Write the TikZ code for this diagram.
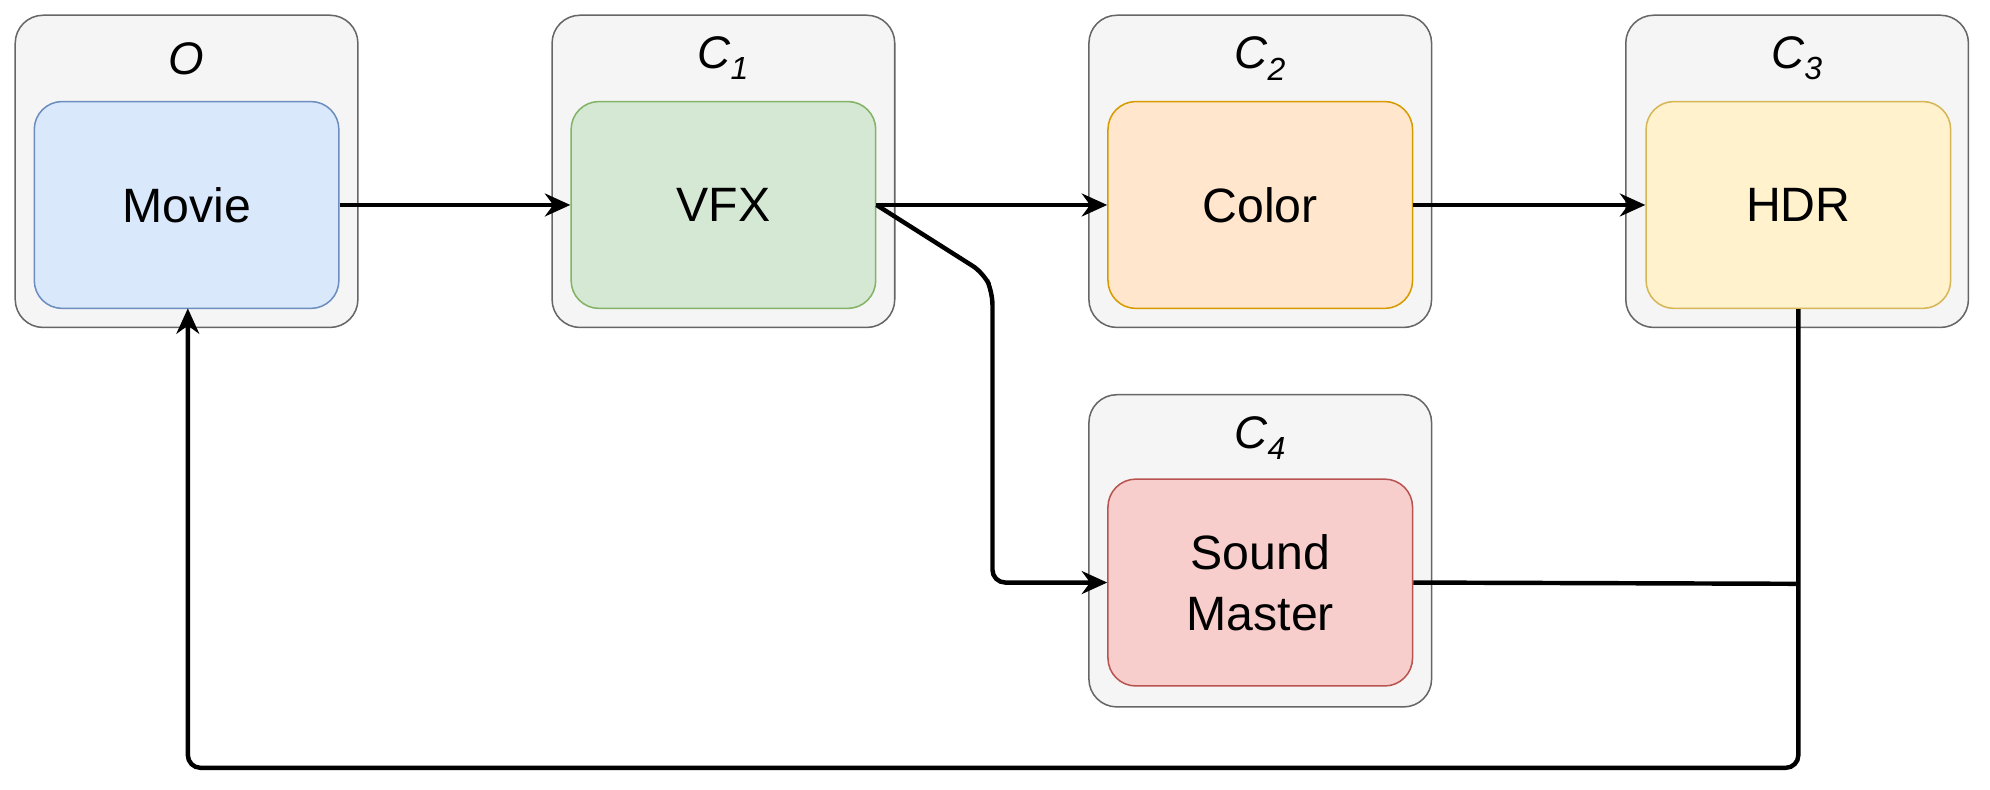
\documentclass[tikz,border=0pt]{standalone}
\usepackage{fontspec}
\setmainfont{Liberation Sans}
\usetikzlibrary{arrows.meta}
\definecolor{gf}{HTML}{F5F5F5}\definecolor{gd}{HTML}{666666}
\definecolor{bf}{HTML}{DAE8FC}\definecolor{bd}{HTML}{6C8EBF}
\definecolor{grf}{HTML}{D5E8D4}\definecolor{grd}{HTML}{82B366}
\definecolor{of}{HTML}{FFE6CC}\definecolor{od}{HTML}{D79B00}
\definecolor{yf}{HTML}{FFF2CC}\definecolor{yd}{HTML}{D6B656}
\definecolor{rf}{HTML}{F8CECC}\definecolor{rd}{HTML}{B85450}
\tikzset{
 outer/.style={draw=gd,fill=gf,line width=1.2pt,rounded corners=22pt,minimum width=270pt,minimum height=246pt},
 inner/.style={line width=1.2pt,rounded corners=22pt,minimum width=240pt,minimum height=163pt,font=\fontsize{38}{44}\selectfont,align=center},
 ttl/.style={font=\fontsize{36}{40}\selectfont\itshape},
 conn/.style={line width=3.5pt,rounded corners=10pt},
 arr/.style={conn,-{Stealth[length=20pt,width=18pt]}}
}
\begin{document}
\begin{tikzpicture}[x=1pt,y=-1pt]
\useasboundingbox (0,0) rectangle (1568,622);
\node[outer] (oO) at (147,135) {};
\node[outer] (o1) at (570,135) {};
\node[outer] (o2) at (993,135) {};
\node[outer] (o3) at (1416,135) {};
\node[outer] (o4) at (993,434) {};
\node[ttl] (tO) at (147,46) {O};
\node[ttl] (t1) at (570,46) {C\textsubscript{1}};
\node[ttl] (t2) at (993,46) {C\textsubscript{2}};
\node[ttl] (t3) at (1416,46) {C\textsubscript{3}};
\node[ttl] (t4) at (993,345) {C\textsubscript{4}};
\node[inner,draw=bd,fill=bf] (mv) at (147,161.5) {Movie};
\node[inner,draw=grd,fill=grf] (vfx) at (570,161.5) {VFX};
\node[inner,draw=od,fill=of] (col) at (993,161.5) {Color};
\node[inner,draw=yd,fill=yf] (hdr) at (1417,161.5) {HDR};
\node[inner,draw=rd,fill=rf] (snd) at (993,459) {Sound\\[4pt]Master};
\coordinate (j) at (1417,460);
\draw[arr] (mv.east) -- (vfx.west);
\draw[arr] (vfx.east) -- (col.west);
\draw[arr] (col.east) -- (hdr.west);
\draw[arr] (vfx.east) -- (775,215) -- (782,230) |- (snd.west);
\draw[conn] (snd.east) -- (j);
\draw[arr] (hdr.south) -- (1417,605) -- (148,605) -- (148,243);
\end{tikzpicture}
\end{document}
